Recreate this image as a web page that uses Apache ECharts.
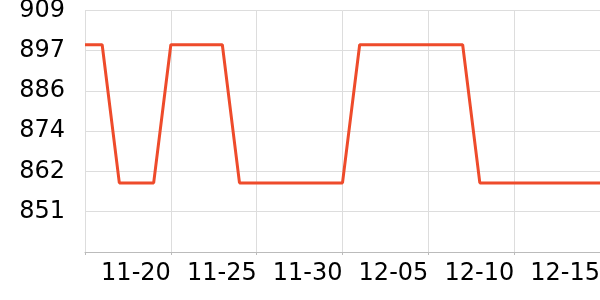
<!DOCTYPE html>
<html>
<head>
<meta charset="utf-8">
<script src="https://cdn.jsdelivr.net/npm/echarts@6/dist/echarts.min.js"></script>
<style>
html,body{margin:0;padding:0;background:#fff;}
#chart{width:600px;height:300px;}
</style>
</head>
<body>
<div id="chart"></div>
<script>
const categories = ['11-15','11-16','11-17','11-18','11-19','11-20','11-21','11-22','11-23','11-24','11-25','11-26','11-27','11-28','11-29','11-30','12-01','12-02','12-03','12-04','12-05','12-06','12-07','12-08','12-09','12-10','12-11','12-12','12-13','12-14','12-15'];
const values = [899,899,859,859,859,899,899,899,899,859,859,859,859,859,859,859,899,899,899,899,899,899,899,859,859,859,859,859,859,859,859];
const yMinTick = 839;
const yTickCount = 6;
const yInterval = yMinTick / 72;

const chart = echarts.init(document.getElementById('chart'), null, {renderer:'canvas'});
const labelFont = {fontFamily:'DejaVu Sans', fontSize:24, color:'#000'};
chart.setOption({
  animation:false,
  grid:{left:85, right:0, top:10.5, bottom:48, containLabel:false, outerBoundsMode:'none'},
  xAxis:{
    type:'category',
    data:categories,
    boundaryGap:false,
    axisLine:{show:true, lineStyle:{color:'#bbb', width:1}},
    axisTick:{show:true, interval:4, length:3, lineStyle:{color:'#bbb'}},
    axisLabel:Object.assign({
      interval:(i)=> i>0 && i%5===0,
      align:'right',
      margin:10
    }, labelFont),
    splitLine:{show:true, interval:4, lineStyle:{color:'#ddd', width:1}}
  },
  yAxis:{
    type:'value',
    min:yInterval*72,
    max:yInterval*(72+yTickCount),
    interval:yInterval,
    axisLine:{show:false},
    axisTick:{show:false},
    axisLabel:Object.assign({
      showMinLabel:false,
      margin:20,
      formatter:(v)=>String(Math.round(v))
    }, labelFont),
    splitLine:{show:true, lineStyle:{color:'#ddd', width:1}}
  },
  series:[{
    type:'line',
    data:values,
    showSymbol:false,
    symbol:'none',
    lineStyle:{color:'#ee4b2b', width:3},
    itemStyle:{color:'#ee4b2b'}
  }]
});
</script>
</body>
</html>
